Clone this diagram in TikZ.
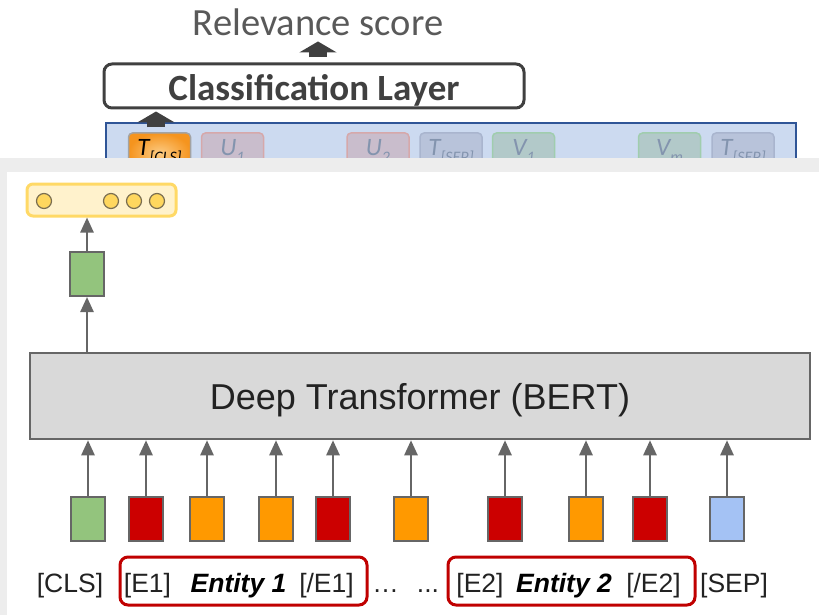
\documentclass[tikz,border=0pt]{standalone}
\usepackage{fontspec}
\setmainfont{Liberation Sans}
\newfontfamily\calib{Carlito}
\usetikzlibrary{arrows.meta}

\definecolor{darkgray}{HTML}{404040}
\definecolor{relgray}{HTML}{595959}
\definecolor{panelfill}{HTML}{CCDAF0}
\definecolor{panelborder}{HTML}{2F5597}
\definecolor{fadetext}{HTML}{8394AE}
\definecolor{ufill}{HTML}{C9BDCC}
\definecolor{uborder}{HTML}{D6A8AA}
\definecolor{sepfill}{HTML}{B8C3DA}
\definecolor{sepborder}{HTML}{A9B5CE}
\definecolor{vfill}{HTML}{B2C9C9}
\definecolor{vborder}{HTML}{A0CDAE}
\definecolor{clsout}{HTML}{F5941E}
\definecolor{clsin}{HTML}{FCCB83}
\definecolor{clsborder}{HTML}{A3A3A3}
\definecolor{overlaygray}{HTML}{EDEDED}
\definecolor{linegray}{HTML}{666666}
\definecolor{trfill}{HTML}{D9D9D9}
\definecolor{tokgreen}{HTML}{93C47D}
\definecolor{tokred}{HTML}{CC0000}
\definecolor{tokorange}{HTML}{FF9900}
\definecolor{tokblue}{HTML}{A4C2F4}
\definecolor{vecfill}{HTML}{FFF2CC}
\definecolor{vecborder}{HTML}{FFD966}
\definecolor{dotfill}{HTML}{FFD75E}
\definecolor{dotborder}{HTML}{7A6E50}
\definecolor{entred}{HTML}{C00000}
\definecolor{labelblack}{HTML}{222222}

\begin{document}
\begin{tikzpicture}[x=1pt,y=-1pt,
  blockarr/.style={draw=darkgray, line width=18pt, -{Triangle[width=37pt,length=11pt]}},
  ptok/.style={rounded corners=4pt, line width=1.5pt, minimum width=62pt, minimum height=40pt, inner sep=0pt},
  ptxt/.style={anchor=base, inner sep=0pt, font=\calib\fontsize{25}{25}\selectfont\itshape},
  inarr/.style={draw=linegray, line width=2.5pt, -{Triangle[width=13pt,length=15pt]}},
  tok/.style={draw=linegray, line width=2pt, minimum width=34pt, minimum height=44pt, inner sep=0pt},
  dot/.style={circle, fill=dotfill, draw=dotborder, line width=1.2pt, minimum size=15pt, inner sep=0pt},
  lab/.style={anchor=base, inner sep=0pt, text=labelblack, font=\fontsize{26.5}{26.5}\selectfont},
  entlab/.style={lab, text=black, font=\fontsize{26.5}{26.5}\selectfont\bfseries\itshape},
  entbox/.style={draw=entred, line width=3pt, rounded corners=8pt, minimum width=247pt, minimum height=48pt, inner sep=0pt}
]
\useasboundingbox (0,0) rectangle (819,615);

% ---- upper part: classification head over the token panel ----
\node[anchor=base, inner sep=0pt, text=relgray, font=\calib\fontsize{38.5}{38.5}\selectfont] (rel) at (318,36) {Relevance score};
\node[draw=darkgray, line width=3pt, rounded corners=8pt, minimum width=420pt, minimum height=44pt, inner sep=0pt] (cls) at (314,86) {};
\node[anchor=base, inner sep=0pt, text=darkgray, font=\calib\bfseries\fontsize{37}{37}\selectfont] (clstext) at (314,101) {Classification Layer};

\node[draw=panelborder, fill=panelfill, line width=2pt, minimum width=690pt, minimum height=80pt, inner sep=0pt] (panel) at (450.5,163) {};

\node[ptok, draw=clsborder, inner color=clsin, outer color=clsout] (tcls) at (159.5,153) {};
\node[ptok, draw=uborder, fill=ufill] (u1) at (232.5,153) {};
\node[ptok, draw=uborder, fill=ufill] (u2) at (378,153) {};
\node[ptok, draw=sepborder, fill=sepfill] (tsep1) at (451,153) {};
\node[ptok, draw=vborder, fill=vfill] (v1) at (523.5,153) {};
\node[ptok, draw=vborder, fill=vfill] (vm) at (669.5,153) {};
\node[ptok, draw=sepborder, fill=sepfill] (tsep2) at (743,153) {};

\node[ptxt, text=black] at (tcls.center |- 0,156) {T\raisebox{-6pt}{\fontsize{16}{16}\selectfont [CLS]}};
\node[ptxt, text=fadetext] at (u1.center |- 0,156) {U\raisebox{-6pt}{\fontsize{16}{16}\selectfont 1}};
\node[ptxt, text=fadetext] at (u2.center |- 0,156) {U\raisebox{-6pt}{\fontsize{16}{16}\selectfont 2}};
\node[ptxt, text=fadetext] at (tsep1.center |- 0,156) {T\raisebox{-6pt}{\fontsize{16}{16}\selectfont [SEP]}};
\node[ptxt, text=fadetext] at (v1.center |- 0,156) {V\raisebox{-6pt}{\fontsize{16}{16}\selectfont 1}};
\node[ptxt, text=fadetext] at (vm.center |- 0,156) {V\raisebox{-6pt}{\fontsize{16}{16}\selectfont m}};
\node[ptxt, text=fadetext] at (tsep2.center |- 0,156) {T\raisebox{-6pt}{\fontsize{16}{16}\selectfont [SEP]}};

\draw[blockarr, shorten <=5pt, shorten >=2pt] ([xshift=-3.5pt]tcls.north) -- ([xshift=-3.5pt]tcls.north |- cls.south);
\draw[blockarr, shorten <=5pt, shorten >=5pt] (rel.south |- cls.north) -- (rel.south);

% ---- lower part: entity-marker input to BERT ----
\fill[overlaygray] (0,158) rectangle (819,615);
\fill[white] (7,172) rectangle (819,615);

\node[draw=vecborder, fill=vecfill, line width=3pt, rounded corners=6pt, minimum width=149pt, minimum height=32pt, inner sep=0pt] (vec) at (101.5,200) {};
\node[dot] (d1) at (44,201) {};
\node[dot] (d2) at (111,201) {};
\node[dot] (d3) at (134,201) {};
\node[dot] (d4) at (157,201) {};

\node[tok, fill=tokgreen] (out) at (87,274) {};

\node[draw=linegray, fill=trfill, line width=2.5pt, minimum width=780pt, minimum height=86pt, inner sep=0pt] (bert) at (420,396) {};
\node[anchor=base, inner sep=0pt, text=labelblack, font=\fontsize{36}{36}\selectfont] (berttext) at (420,409) {Deep Transformer (BERT)};

\node[tok, fill=tokgreen]  (t1)  at (88,519) {};
\node[tok, fill=tokred]    (t2)  at (146,519) {};
\node[tok, fill=tokorange] (t3)  at (207,519) {};
\node[tok, fill=tokorange] (t4)  at (276,519) {};
\node[tok, fill=tokred]    (t5)  at (333,519) {};
\node[tok, fill=tokorange] (t6)  at (411,519) {};
\node[tok, fill=tokred]    (t7)  at (505,519) {};
\node[tok, fill=tokorange] (t8)  at (586,519) {};
\node[tok, fill=tokred]    (t9)  at (650,519) {};
\node[tok, fill=tokblue]   (t10) at (727,519) {};

\foreach \t in {t1,t2,t3,t4,t5,t6,t7,t8,t9,t10}
  \draw[inarr] (\t.north) -- (\t.north |- bert.south);
\draw[inarr] (out.south |- bert.north) -- (out.south);
\draw[inarr] (out.north) -- (out.north |- vec.south);

\node[entbox] (e1box) at (243.5,581) {};
\node[entbox] (e2box) at (571.5,581) {};

\node[lab] (lcls) at (70,592) {[CLS]};
\node[lab] (le1) at (147.5,592) {[E1]};
\node[entlab] (lent1) at (238.5,592) {Entity 1};
\node[lab] (le1c) at (326.5,592) {[/E1]};
\node[lab] (ldots1) at (385.5,592) {…};
\node[lab] (ldots2) at (428,592) {...};
\node[lab] (le2) at (480,592) {[E2]};
\node[entlab] (lent2) at (564,592) {Entity 2};
\node[lab] (le2c) at (653.5,592) {[/E2]};
\node[lab] (lsep) at (734,592) {[SEP]};
\end{tikzpicture}
\end{document}
